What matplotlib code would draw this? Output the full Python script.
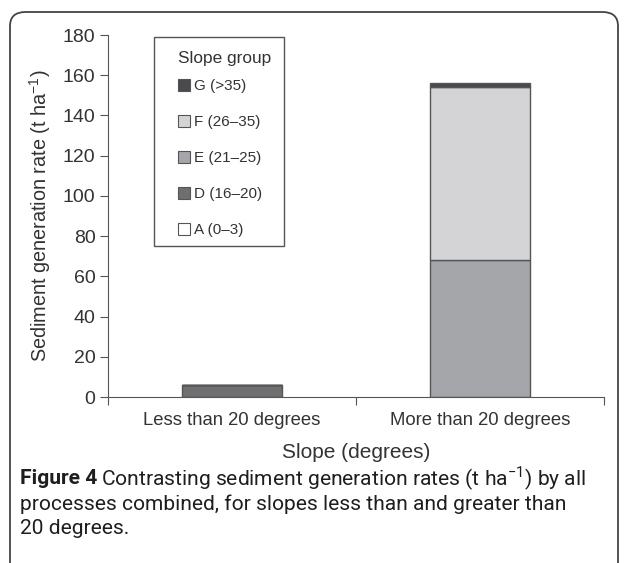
import matplotlib.pyplot as plt
from matplotlib.patches import FancyBboxPatch, Patch, Rectangle

# data
slopes = ["Less than 20 degrees", "More than 20 degrees"]
groups = ["A (0\u20133)", "D (16\u201320)", "E (21\u201325)", "F (26\u201335)", "G (>35)"]
values = {
    "A (0\u20133)": [0, 0],
    "D (16\u201320)": [6, 0],
    "E (21\u201325)": [0, 68],
    "F (26\u201335)": [0, 86],
    "G (>35)": [0, 2],
}
colors = {
    "A (0\u20133)": "#ffffff",
    "D (16\u201320)": "#6f6f72",
    "E (21\u201325)": "#a5a6a9",
    "F (26\u201335)": "#d4d4d6",
    "G (>35)": "#4a4a4c",
}

plt.rcParams['font.family'] = ['Liberation Sans', 'DejaVu Sans']
edge = "#555555"
txt = "#333333"

fig = plt.figure(figsize=(6.24, 5.63), dpi=100)
ax = fig.add_axes([108/624, 1-397/563, 496/624, 362/563])

x = list(range(len(slopes)))
bottom = [0]*len(slopes)
for g in groups:
    ax.bar(x, values[g], width=0.4, bottom=bottom, color=colors[g],
           edgecolor=edge, linewidth=1.0)
    bottom = [b+v for b, v in zip(bottom, values[g])]

ax.set_xlim(-0.5, 1.5)
ax.set_ylim(0, 180)
ax.set_yticks(range(0, 181, 20))
ax.set_xticks([-0.5, 0.5, 1.5])
ax.set_xticklabels([])
ax.set_xticks(x, minor=True)
ax.set_xticklabels(slopes, minor=True, fontsize=13.3, color=txt)
ax.tick_params(axis='x', which='minor', length=0, pad=11)
ax.tick_params(axis='x', which='major', length=6, color=edge)
ax.tick_params(axis='y', length=6, color=edge, labelsize=14, labelcolor=txt, pad=3)
for s in ["top", "right"]:
    ax.spines[s].set_visible(False)
for s in ["left", "bottom"]:
    ax.spines[s].set_color(edge)
ax.set_ylabel("Sediment generation rate (t ha$^{\\mathregular{-1}}$)", fontsize=14.3,
              color=txt, labelpad=7)
ax.set_xlabel("Slope (degrees)", fontsize=15, color=txt, labelpad=10)

# legend (frame drawn separately)
handles = [Patch(facecolor=colors[g], edgecolor=edge, linewidth=0.8) for g in groups[::-1]]
leg = ax.legend(handles, groups[::-1], title="Slope group", loc="upper left",
                bbox_to_anchor=((178-108)/496, (397-51)/362), fontsize=11,
                title_fontsize=12.4, frameon=False, labelspacing=1.44,
                handlelength=0.78, handleheight=0.78, handletextpad=0.28,
                borderpad=0, borderaxespad=0, alignment='left')
leg._legend_box.sep = 9.4
for t in leg.get_texts():
    t.set_color(txt)
leg.get_title().set_color(txt)
ax.add_patch(Rectangle(((154-108)/496, (397-246)/362), 130/496, 209/362,
                       transform=ax.transAxes, facecolor="none", edgecolor=edge,
                       linewidth=1.0, clip_on=False, zorder=5))

# frame around figure
frame = FancyBboxPatch((10/624, -0.05), 608/624, 1.0 - 12/563 + 0.05,
                       boxstyle="round,pad=0,rounding_size=0.025",
                       transform=fig.transFigure, facecolor="none",
                       edgecolor="#444444", linewidth=1.3, clip_on=False)
fig.patches.append(frame)

# caption
cap_font = ['Roboto', 'DejaVu Sans']
fs = 15.1
cap_col = "#1e1e1e"
t1 = fig.text(20/624, 1-479/563, "Figure 4", fontsize=fs, fontweight='bold',
              family=cap_font, color=cap_col, va='center')
fig.canvas.draw()
bb = t1.get_window_extent()
fig.text((bb.x1 + 4)/624, 1-479/563,
         "Contrasting sediment generation rates (t ha$^{\\mathregular{-1}}$) by all",
         fontsize=fs, family=cap_font, color=cap_col, va='center')
fig.text(20/624, 1-504/563, "processes combined, for slopes less than and greater than",
         fontsize=fs, family=cap_font, color=cap_col, va='center')
fig.text(20/624, 1-529/563, "20 degrees.",
         fontsize=fs, family=cap_font, color=cap_col, va='center')

fig.savefig("out.png", dpi=100)
